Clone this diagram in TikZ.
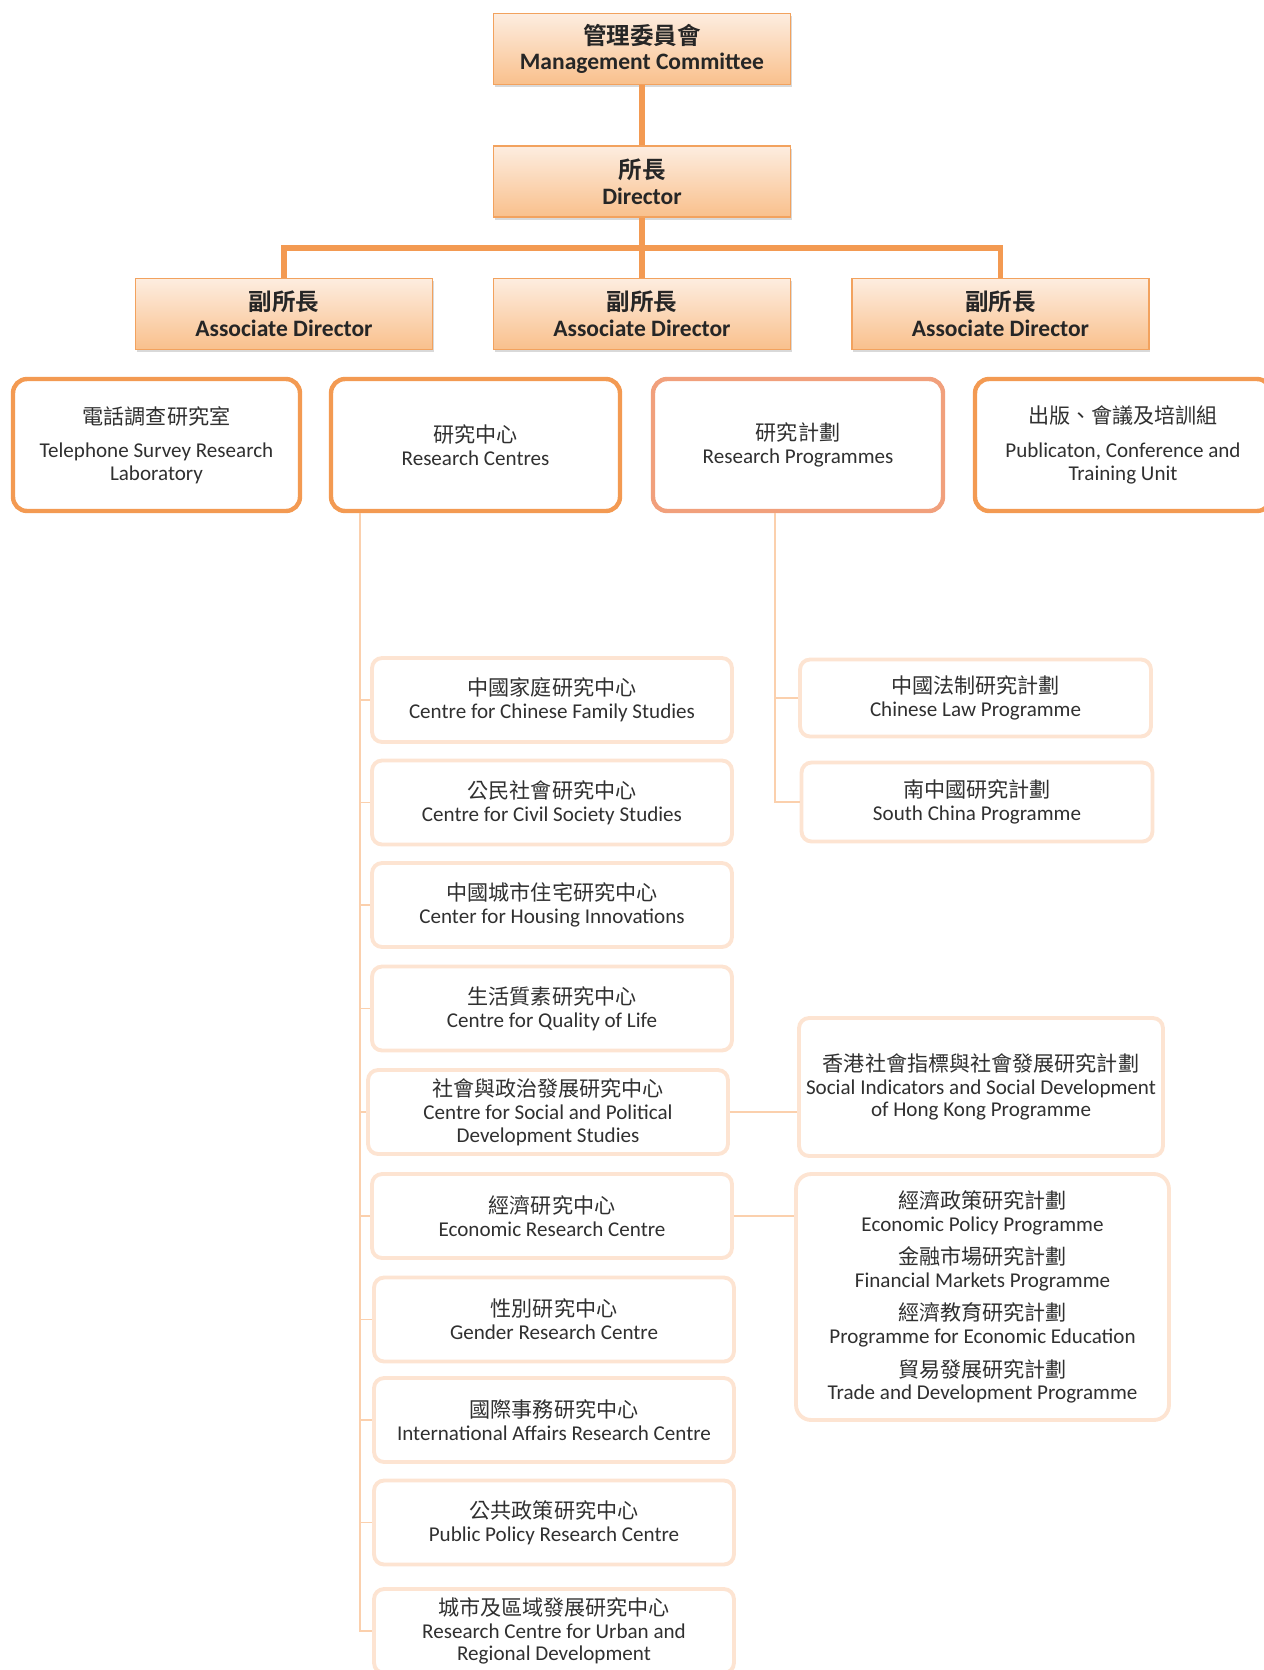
\documentclass[tikz,border=0pt]{standalone}
\usepackage{fontspec}
\setmainfont{Carlito}
\newfontfamily\cjk{Noto Sans CJK TC}[BoldFont={Noto Sans CJK TC Bold}]
\usetikzlibrary{shadows}
\definecolor{orgbox}{HTML}{F2A25E}
\definecolor{gradtop}{HTML}{FDEDE0}
\definecolor{gradbot}{HTML}{F9C08C}
\definecolor{orgline}{HTML}{F39A52}
\definecolor{rpline}{HTML}{F1A07C}
\definecolor{paleline}{HTML}{FDE4D2}
\definecolor{twigline}{HTML}{FBD0AD}
\definecolor{txtdark}{HTML}{262626}
\definecolor{txtgray}{HTML}{303030}

\begin{document}
\begin{tikzpicture}[x=0.02cm,y=-0.02cm,
    topbox/.style={draw=orgbox,line width=0.9pt,top color=gradtop,bottom color=gradbot,
      minimum width=5.94cm,minimum height=1.42cm,align=center,text=txtdark,
      font=\fontsize{13.4}{14.6}\selectfont\bfseries,
      drop shadow={shadow xshift=0.8pt,shadow yshift=-1.6pt,opacity=0.3}},
    unitbox/.style={draw=orgline,line width=2.5pt,rounded corners=0.28cm,fill=white,
      minimum height=2.64cm,align=center,text=txtgray,font=\fontsize{12}{13}\selectfont},
    subbox/.style={draw=paleline,line width=2.2pt,rounded corners=0.2cm,fill=white,
      minimum width=7.2cm,minimum height=1.68cm,align=center,text=txtgray,
      font=\fontsize{12}{13}\selectfont},
    trunk/.style={draw=orgline,line width=3.2pt},
    twig/.style={draw=twigline,line width=1.1pt}]
    \useasboundingbox (0,0) rectangle (1264,1670);

    % management
    \node[topbox] (mc) at (642,49) {{\cjk 管理委員會}\\Management Committee};
    \node[topbox] (dir) at (642,181.5) {{\cjk 所長}\\Director};
    \node[topbox] (ad1) at (284,314) {{\cjk 副所長}\\Associate Director};
    \node[topbox] (ad2) at (642,314) {{\cjk 副所長}\\Associate Director};
    \node[topbox] (ad3) at (1000.5,314) {{\cjk 副所長}\\Associate Director};
    \coordinate (bus) at (642,248);
    \draw[trunk] (mc.south) -- (dir.north);
    \draw[trunk] (dir.south) -- (ad2.north);
    \draw[trunk] (ad1.north) |- (bus) -| (ad3.north);

    % units
    \node[unitbox,minimum width=5.74cm] (tel) at (156.5,445) {{\cjk 電話調查研究室}\\[6pt]Telephone Survey Research\\Laboratory};
    \node[unitbox,minimum width=5.78cm] (rc) at (475.5,445) {{\cjk 研究中心}\\Research Centres};
    \node[unitbox,minimum width=5.8cm,draw=rpline] (rp) at (798,445) {{\cjk 研究計劃}\\Research Programmes};
    \node[unitbox,minimum width=5.92cm] (pub) at (1123,445) {{\cjk 出版、會議及培訓組}\\[6pt]Publicaton, Conference and\\Training Unit};

    % research centres
    \node[subbox] (c1) at (552,700) {{\cjk 中國家庭研究中心}\\Centre for Chinese Family Studies};
    \node[subbox] (c2) at (552,802.5) {{\cjk 公民社會研究中心}\\Centre for Civil Society Studies};
    \node[subbox] (c3) at (552,905) {{\cjk 中國城市住宅研究中心}\\Center for Housing Innovations};
    \node[subbox] (c4) at (552,1008.5) {{\cjk 生活質素研究中心}\\Centre for Quality of Life};
    \node[subbox] (c5) at (548,1112) {{\cjk 社會與政治發展研究中心}\\Centre for Social and Political\\Development Studies};
    \node[subbox] (c6) at (552,1216) {{\cjk 經濟研究中心}\\Economic Research Centre};
    \node[subbox] (c7) at (554,1319.5) {{\cjk 性別研究中心}\\Gender Research Centre};
    \node[subbox] (c8) at (554,1420) {{\cjk 國際事務研究中心}\\International Affairs Research Centre};
    \node[subbox] (c9) at (554,1522.5) {{\cjk 公共政策研究中心}\\Public Policy Research Centre};
    \node[subbox] (c10) at (554,1631) {{\cjk 城市及區域發展研究中心}\\Research Centre for Urban and\\Regional Development};
    \coordinate (rctop) at (360,0 |- rc.south);
    \draw[twig] (rctop) |- (c10.west);
    \draw[twig] (rctop |- c1.west) -- (c1.west);
    \draw[twig] (rctop |- c2.west) -- (c2.west);
    \draw[twig] (rctop |- c3.west) -- (c3.west);
    \draw[twig] (rctop |- c4.west) -- (c4.west);
    \draw[twig] (rctop |- c5.west) -- (c5.west);
    \draw[twig] (rctop |- c6.west) -- (c6.west);
    \draw[twig] (rctop |- c7.west) -- (c7.west);
    \draw[twig] (rctop |- c8.west) -- (c8.west);
    \draw[twig] (rctop |- c9.west) -- (c9.west);

    % research programmes
    \node[subbox,minimum width=7.02cm,minimum height=1.54cm] (p1) at (975.5,698) {{\cjk 中國法制研究計劃}\\Chinese Law Programme};
    \node[subbox,minimum width=7.02cm,minimum height=1.58cm] (p2) at (977,802) {{\cjk 南中國研究計劃}\\South China Programme};
    \coordinate (rptop) at (775,0 |- rp.south);
    \draw[twig] (rptop) |- (p2.west);
    \draw[twig] (rptop |- p1.west) -- (p1.west);

    \node[subbox,minimum width=7.28cm,minimum height=2.76cm] (si) at (981,1087) {{\cjk 香港社會指標與社會發展研究計劃}\\Social Indicators and Social Development\\of Hong Kong Programme};
    \node[subbox,minimum width=7.46cm,minimum height=4.92cm,rounded corners=0.3cm] (econ) at (982.5,1297) {{\cjk 經濟政策研究計劃}\\Economic Policy Programme\\[6pt]{\cjk 金融市場研究計劃}\\Financial Markets Programme\\[6pt]{\cjk 經濟教育研究計劃}\\Programme for Economic Education\\[6pt]{\cjk 貿易發展研究計劃}\\Trade and Development Programme};
    \draw[twig] (c5.east) -- (si.west |- c5.east);
    \draw[twig] (c6.east) -- (econ.west |- c6.east);
\end{tikzpicture}
\end{document}
